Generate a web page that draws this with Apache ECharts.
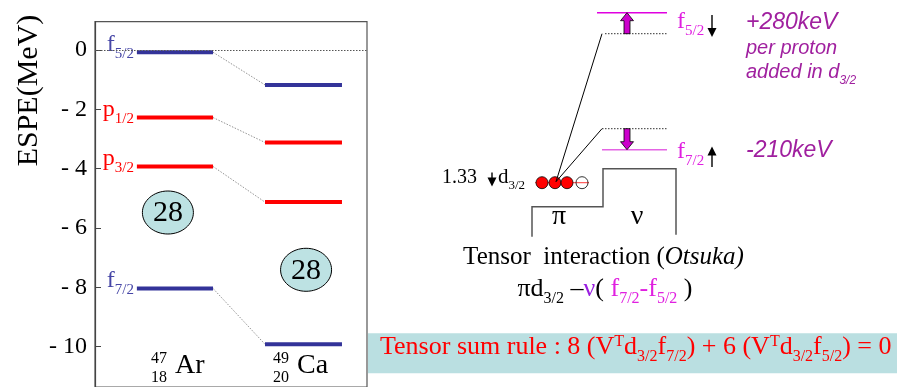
<!DOCTYPE html>
<html>
<head>
<meta charset="utf-8">
<script src="https://cdn.jsdelivr.net/npm/echarts@6/dist/echarts.min.js"></script>
<style>
  html, body { margin: 0; padding: 0; background: #fff; }
  #chart { width: 897px; height: 387px; }
</style>
</head>
<body>
<div id="chart"></div>
<script>
// Effective single-particle energies (MeV) of the neutron orbitals above N=28
const orbitals = ['f5/2', 'p1/2', 'p3/2', 'f7/2'];
const espeAr = [-0.08, -2.28, -3.93, -8.04];   // 47Ar (Z=18)
const espeCa = [-1.18, -3.12, -5.13, -9.92];   // 49Ca (Z=20)
const nuclei = [
  { mass: '47', z: '18', symbol: 'Ar' },
  { mass: '49', z: '20', symbol: 'Ca' }
];
const yTicks = [0, -2, -4, -6, -8, -10];
const shellGap = '28';
const gapEnergy = [-5.48, -7.41];               // where the N=28 gap badge sits for each nucleus

// Schematic tensor-force picture (arbitrary energy units, d3/2 proton level at 0)
const nuOrbitals = ['f5/2', 'f7/2'];
const nuBare = [149, 54];        // neutron levels before filling proton d3/2
const nuShifted = [170, 33];     // after filling: f5/2 pushed up, f7/2 pulled down
const shiftLabels = ['+280keV', '-210keV'];
const protonD32 = 0;
const d32Occupancy = [1, 1, 1, 0];
const d32Shift = '1.33';
const wellTops = { proton: -24, neutron: 14, bottom: -54 };

const SERIF = 'Liberation Serif';
const SANS = 'Liberation Sans';
const BLUE = '#333399';
const RED = '#ff0000';
const MAGENTA = '#e020e0';
const PURPLE = '#a0209f';

// layout in axis units
const levelX = [[0.154, 0.434], [0.625, 0.908]];
const gapX = [0.268, 0.776];
const nucleusX = [0.294, 0.743];
const nucleusLabelY = -10.95;
const orbitalColors = { f: BLUE, p: RED };

// rich text: segments [text, kind('n'|'sub'|'sup'), color, italic]
function richText(segments, fs, family) {
  const rich = {};
  let text = '';
  const small = Math.round(fs * 0.62);
  segments.forEach(function (seg, k) {
    const kind = seg[1] || 'n';
    const size = kind === 'n' ? fs : small;
    let pad = 0;
    if (kind === 'sub') pad = Math.round(fs * 1.09 - small * 0.84);
    const key = 't' + k;
    rich[key] = {
      fontSize: size, lineHeight: size, fontFamily: family,
      fontStyle: seg[3] ? 'italic' : 'normal',
      fill: seg[2] || '#000', verticalAlign: 'top', padding: [pad, 0, 0, 0]
    };
    text += '{' + key + '|' + seg[0] + '}';
  });
  return { text: text, rich: rich };
}

function richEl(segments, fs, family, x, baseline, align) {
  const r = richText(segments, fs, family);
  return {
    type: 'text', x: x, y: baseline - 0.84 * fs, z: 10,
    style: { text: r.text, rich: r.rich, align: align || 'left', verticalAlign: 'top' }
  };
}

function thinArrow(x, yTail, yTip) {
  const dir = yTip > yTail ? 1 : -1;
  return {
    type: 'group', z: 10, children: [
      { type: 'line', shape: { x1: x, y1: yTail, x2: x, y2: yTip - dir * 6 }, style: { stroke: '#000', lineWidth: 1.4 } },
      { type: 'polygon', shape: { points: [[x - 4.5, yTip - dir * 9], [x + 4.5, yTip - dir * 9], [x, yTip]] }, style: { fill: '#000' } }
    ]
  };
}

function splitOrbital(name) {
  return { l: name.charAt(0), j: name.slice(1) };
}

const chart = echarts.init(document.getElementById('chart'));

const option = {
  animation: false,
  backgroundColor: '#fff',
  grid: [
    { left: 95, right: 530, top: 21.7, bottom: 0, show: true, borderColor: '#555', borderWidth: 1.2, backgroundColor: 'transparent' },
    { left: 430, right: 167, top: 2.7, bottom: 144.3, show: false }
  ],
  xAxis: [
    { gridIndex: 0, type: 'value', min: 0, max: 1, show: false },
    { gridIndex: 1, type: 'value', min: 0, max: 300, show: false }
  ],
  yAxis: [
    {
      gridIndex: 0, type: 'value', min: -11.36, max: 0.95,
      axisLine: { show: true, lineStyle: { color: '#444', width: 1.2 } },
      axisTick: { show: true, inside: true, length: 6, customValues: yTicks, lineStyle: { color: '#444' } },
      axisLabel: {
        customValues: yTicks, margin: 8, color: '#000', fontFamily: SERIF, fontSize: 24,
        formatter: function (v) { return v < 0 ? '- ' + (-v) : String(v); }
      },
      splitLine: { show: false }
    },
    { gridIndex: 1, type: 'value', min: -60, max: 180, show: false }
  ],
  series: [
    {
      // levels of both nuclei with dotted connectors and orbital labels
      type: 'custom', xAxisIndex: 0, yAxisIndex: 0, z: 3,
      data: orbitals.map(function (o, i) { return [espeAr[i], espeCa[i]]; }),
      encode: { x: -1, y: [0, 1] },
      renderItem: function (params, api) {
        const i = params.dataIndex;
        const yA = espeAr[i], yC = espeCa[i];
        const a1 = api.coord([levelX[0][0], yA]), a2 = api.coord([levelX[0][1], yA]);
        const c1 = api.coord([levelX[1][0], yC]), c2 = api.coord([levelX[1][1], yC]);
        const o = splitOrbital(orbitals[i]);
        const col = orbitalColors[o.l];
        const lc = o.l === 'f' ? '#4646a6' : RED;
        const lab = richText([[o.l, 'n', lc], [o.j, 'sub', lc]], 24, SERIF);
        return {
          type: 'group', children: [
            { type: 'line', shape: { x1: a2[0], y1: a2[1], x2: c1[0], y2: c1[1] }, style: { stroke: '#777', lineWidth: 0.8, lineDash: [1.5, 1.5] } },
            { type: 'line', shape: { x1: a1[0], y1: a1[1], x2: a2[0], y2: a2[1] }, style: { stroke: col, lineWidth: 4 } },
            { type: 'line', shape: { x1: c1[0], y1: c1[1], x2: c2[0], y2: c2[1] }, style: { stroke: col, lineWidth: 4 } },
            { type: 'text', x: a1[0] - 3, y: a1[1] - 19.5, style: { text: lab.text, rich: lab.rich, align: 'right', verticalAlign: 'top' } }
          ]
        };
      },
      markLine: {
        silent: true, symbol: 'none', label: { show: false },
        lineStyle: { color: '#555', type: [1.5, 1.5], width: 1 },
        data: [{ yAxis: 0 }]
      }
    },
    {
      // N=28 shell-gap badges
      type: 'custom', xAxisIndex: 0, yAxisIndex: 0, z: 4,
      data: gapEnergy.map(function (e, i) { return [gapX[i], e]; }),
      renderItem: function (params, api) {
        const p = api.coord([api.value(0), api.value(1)]);
        return {
          type: 'group', children: [
            { type: 'ellipse', shape: { cx: p[0], cy: p[1], rx: 25.5, ry: 21.5 }, style: { fill: '#bde2e3', stroke: '#000', lineWidth: 1 } },
            { type: 'text', x: p[0], y: p[1] + 1, style: { text: shellGap, fontFamily: SERIF, fontSize: 30, fill: '#000', align: 'center', verticalAlign: 'middle' } }
          ]
        };
      }
    },
    {
      // nuclide names under each column
      type: 'custom', xAxisIndex: 0, yAxisIndex: 0, z: 4,
      data: nuclei.map(function (n, i) { return [nucleusX[i], nucleusLabelY]; }),
      renderItem: function (params, api) {
        const n = nuclei[params.dataIndex];
        const p = api.coord([api.value(0), api.value(1)]);
        return {
          type: 'group', children: [
            { type: 'text', x: p[0], y: p[1] - 9, style: { text: n.symbol, fontFamily: SERIF, fontSize: 28, fill: '#000', align: 'left', verticalAlign: 'middle' } },
            { type: 'text', x: p[0] - 8, y: p[1] - 16, style: { text: n.mass, fontFamily: SERIF, fontSize: 16, fill: '#000', align: 'right', verticalAlign: 'middle' } },
            { type: 'text', x: p[0] - 8, y: p[1] + 3, style: { text: n.z, fontFamily: SERIF, fontSize: 16, fill: '#000', align: 'right', verticalAlign: 'middle' } }
          ]
        };
      }
    },
    {
      // schematic: proton d3/2 filling and the neutron f-orbital shifts
      type: 'custom', xAxisIndex: 1, yAxisIndex: 1, z: 5,
      data: [[0, protonD32]],
      renderItem: function (params, api) {
        const c = function (x, e) { return api.coord([x, e]); };
        const kids = [];
        // potential wells
        const well = [c(102, wellTops.bottom), c(102, wellTops.proton), c(173, wellTops.proton), c(173, wellTops.neutron), c(246, wellTops.neutron), c(246, wellTops.bottom + 2)];
        kids.push({ type: 'polyline', shape: { points: well }, style: { stroke: '#555', lineWidth: 1.5, fill: null } });
        // neutron levels
        const shiftedColors = ['#e000e0', '#e464e4'];
        nuOrbitals.forEach(function (o, i) {
          const b1 = c(i === 0 ? 175 : 172, nuBare[i]), b2 = c(237, nuBare[i]);
          const s1 = c(i === 0 ? 167 : 172, nuShifted[i]), s2 = c(237, nuShifted[i]);
          kids.push({ type: 'line', shape: { x1: b1[0], y1: b1[1], x2: b2[0], y2: b2[1] }, style: { stroke: '#333', lineWidth: 1, lineDash: [1.5, 1.5] } });
          kids.push({ type: 'line', shape: { x1: s1[0], y1: s1[1], x2: s2[0], y2: s2[1] }, style: { stroke: shiftedColors[i], lineWidth: 1.6 } });
          // block arrow from bare to shifted level
          const from = c(197, nuBare[i]), to = c(197, nuShifted[i]);
          const dir = to[1] < from[1] ? -1 : 1;
          const hx = 6.5, sx = 3, hl = 8;
          kids.push({
            type: 'polygon', z2: 5,
            shape: { points: [
              [from[0] - sx, from[1]], [from[0] - sx, to[1] - dir * hl], [from[0] - hx, to[1] - dir * hl],
              [to[0], to[1]], [from[0] + hx, to[1] - dir * hl], [from[0] + sx, to[1] - dir * hl], [from[0] + sx, from[1]]
            ] },
            style: { fill: '#cc00cc', stroke: '#000', lineWidth: 0.8 }
          });
        });
        // proton d3/2 level and its occupancy
        const d1 = c(105, protonD32), d2 = c(159, protonD32);
        kids.push({ type: 'line', shape: { x1: d1[0], y1: d1[1], x2: d2[0], y2: d2[1] }, style: { stroke: '#ff6060', lineWidth: 1.2 } });
        const slotX = [112, 125, 137, 152];
        d32Occupancy.forEach(function (occ, k) {
          const p = c(slotX[k], protonD32);
          kids.push({ type: 'circle', shape: { cx: p[0], cy: p[1], r: 6 }, style: { fill: occ ? RED : 'rgba(255,255,255,0)', stroke: '#000', lineWidth: 0.8 } });
        });
        // tensor coupling lines
        const src = c(126, protonD32 + 1);
        [149, 54].forEach(function (e) {
          const t = c(172, e);
          kids.push({ type: 'line', shape: { x1: src[0], y1: src[1], x2: t[0], y2: t[1] }, style: { stroke: '#000', lineWidth: 1 } });
        });
        return { type: 'group', children: kids };
      }
    }
  ],
  graphic: [
    {
      type: 'text', x: 29, y: 90.5, rotation: Math.PI / 2, z: 10,
      style: { text: 'ESPE(MeV)', fontFamily: SERIF, fontSize: 30, fill: '#000', align: 'center', verticalAlign: 'middle' }
    },
    // neutron orbital labels and shift annotations
    richEl([['f', 'n', MAGENTA], ['5/2', 'sub', MAGENTA]], 24, SERIF, 677, 30),
    richEl([['f', 'n', MAGENTA], ['7/2', 'sub', MAGENTA]], 24, SERIF, 677, 160),
    thinArrow(712, 15, 37),
    thinArrow(712, 167, 146.5),
    richEl([[shiftLabels[0], 'n', PURPLE, true]], 23, SANS, 746, 30),
    richEl([['per proton', 'n', PURPLE, true]], 20, SANS, 746, 55),
    richEl([['added in d', 'n', PURPLE, true], ['3/2', 'sub', PURPLE, true]], 20, SANS, 746, 79.5),
    richEl([[shiftLabels[1], 'n', PURPLE, true]], 23, SANS, 746, 158.5),
    // proton d3/2 label
    richEl([[d32Shift, 'n', '#000']], 20, SERIF, 442, 185),
    thinArrow(492, 172.5, 186.5),
    richEl([['d', 'n', '#000'], ['3/2', 'sub', '#000']], 21, SERIF, 498, 185),
    richEl([['π', 'n', '#000']], 28, SERIF, 559, 226, 'center'),
    richEl([['ν', 'n', '#000']], 28, SERIF, 637, 226, 'center'),
    richEl([['Tensor  interaction (', 'n', '#000'], ['Otsuka)', 'n', '#000', true]], 25, SERIF, 603.5, 266, 'center'),
    richEl([['πd', 'n', '#000'], ['3/2', 'sub', '#000'], [' –', 'n', '#000'], ['ν', 'n', '#9a1fe0'], ['( ', 'n', '#000'],
            ['f', 'n', MAGENTA], ['7/2', 'sub', MAGENTA], ['-f', 'n', MAGENTA], ['5/2', 'sub', MAGENTA], [' )', 'n', '#000']], 26, SERIF, 605, 298, 'center'),
    // sum rule banner
    { type: 'rect', shape: { x: 368, y: 333.3, width: 529, height: 40 }, style: { fill: '#badfe1' }, z: 1 },
    richEl([['Tensor sum rule : 8 (V', 'n', RED], ['T', 'sup', RED], ['d', 'n', RED], ['3/2', 'sub', RED], ['f', 'n', RED], ['7/2', 'sub', RED],
            [') + 6 (V', 'n', RED], ['T', 'sup', RED], ['d', 'n', RED], ['3/2', 'sub', RED], ['f', 'n', RED], ['5/2', 'sub', RED], [') = 0', 'n', RED]], 26, SERIF, 380, 356)
  ]
};

chart.setOption(option);
</script>
</body>
</html>
